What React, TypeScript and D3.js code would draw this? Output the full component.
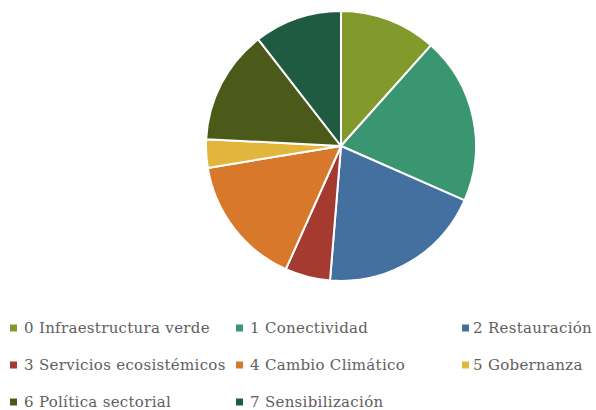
import React, { useRef, useEffect } from 'react';
import * as d3 from 'd3';

// Categories and shares (percent)
const categories = [
  '0 Infraestructura verde',
  '1 Conectividad',
  '2 Restauración',
  '3 Servicios ecosistémicos',
  '4 Cambio Climático',
  '5 Gobernanza',
  '6 Política sectorial',
  '7 Sensibilización',
];
const shares = [11.6, 20.0, 19.7, 5.4, 15.7, 3.4, 13.7, 10.5];
const colors = ['#82992b', '#3a9670', '#43709f', '#a43a30', '#d8782a', '#e2b53c', '#4b5a19', '#1f5b41'];

const App = () => {
  const svgRef = useRef<SVGSVGElement | null>(null);
  const width = 596;
  const height = 410;

  useEffect(() => {
    if (!svgRef.current) return;
    const svg = d3.select(svgRef.current);
    svg.selectAll('*').remove();

    const data = categories.map((c, i) => ({ name: c, value: shares[i], color: colors[i] }));

    // Pie
    const cx = 341;
    const cy = 146;
    const radius = 135;
    const pie = d3.pie<any>().sort(null).value(d => d.value);
    const arc = d3.arc<any>().innerRadius(0).outerRadius(radius);

    const g = svg.append('g').attr('transform', `translate(${cx}, ${cy})`);
    g.selectAll('path')
      .data(pie(data))
      .enter()
      .append('path')
      .attr('d', arc)
      .attr('fill', d => d.data.color)
      .attr('stroke', '#ffffff')
      .attr('stroke-width', 2)
      .attr('stroke-linejoin', 'round');

    // Legend: 3 columns
    const colX = d3.scaleLinear().domain([0, 1]).range([10, 236]);
    const rowY = d3.scaleLinear().domain([0, 1]).range([328, 365]);

    const items = svg.append('g')
      .selectAll('g')
      .data(data)
      .enter()
      .append('g')
      .attr('transform', (d, i) => `translate(${colX(i % 3)}, ${rowY(Math.floor(i / 3))})`);

    items.append('rect')
      .attr('x', 0)
      .attr('y', -3.5)
      .attr('width', 7)
      .attr('height', 7)
      .attr('fill', d => d.color);

    items.append('text')
      .attr('x', (d, i) => (i % 3 === 2 ? 11 : 14))
      .attr('y', 5)
      .attr('fill', '#606060')
      .attr('font-family', '"DejaVu Serif", serif')
      .attr('font-size', '15px')
      .attr('letter-spacing', '0.3px')
      .text(d => d.name);
  }, []);

  return (
    <svg
      ref={svgRef}
      width={width}
      height={height}
      style={{ position: 'absolute', left: 0, top: 0, background: '#ffffff' }}
    />
  );
};

export default App;
